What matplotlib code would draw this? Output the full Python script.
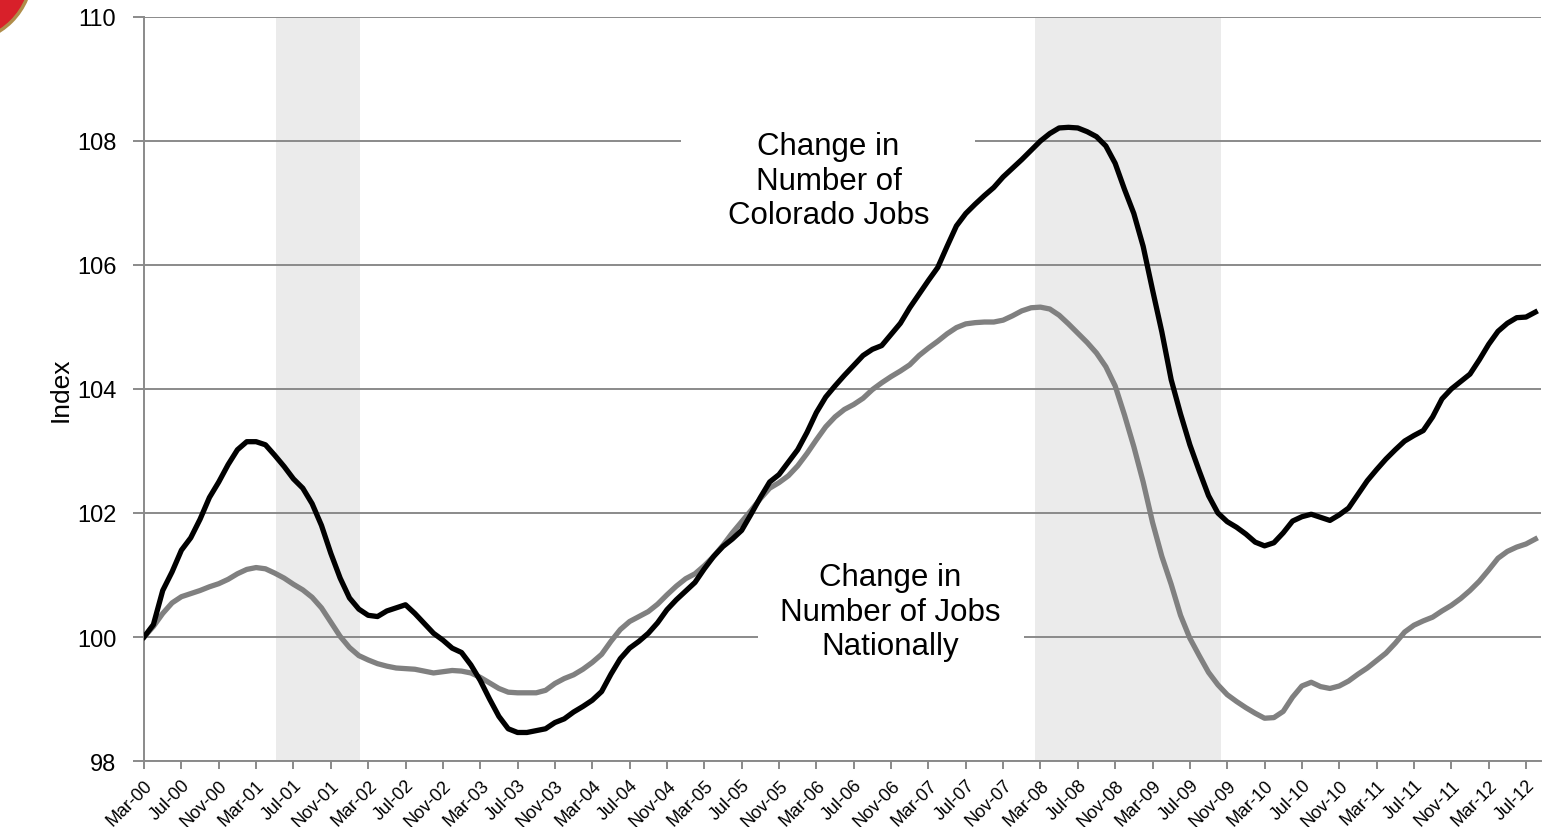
import numpy as np
import pandas as pd
import matplotlib
matplotlib.use('Agg')
from matplotlib import pyplot as plt
from matplotlib.patches import Rectangle, Circle

plt.rcParams['font.family'] = ['Liberation Sans', 'DejaVu Sans']

# monthly index, Mar-2000 = 100, through Aug-2012
months = pd.date_range('2000-03-01', periods=150, freq='MS')

colorado = [
    100.00, 100.20, 100.75, 101.05, 101.40, 101.60, 101.90, 102.25, 102.50, 102.78,
    103.02, 103.15, 103.15, 103.10, 102.93, 102.75, 102.55, 102.40, 102.15, 101.80,
    101.35, 100.95, 100.63, 100.45, 100.35, 100.33, 100.42, 100.47, 100.52, 100.38,
    100.22, 100.06, 99.95, 99.82, 99.75, 99.55, 99.30, 99.00, 98.72, 98.52,
    98.46, 98.46, 98.49, 98.52, 98.62, 98.68, 98.79, 98.88, 98.98, 99.12,
    99.40, 99.65, 99.82, 99.93, 100.06, 100.23, 100.44, 100.60, 100.74, 100.88,
    101.10, 101.30, 101.46, 101.58, 101.72, 101.98, 102.25, 102.50, 102.62, 102.82,
    103.02, 103.30, 103.62, 103.87, 104.05, 104.22, 104.38, 104.54, 104.64, 104.70,
    104.88, 105.06, 105.31, 105.53, 105.75, 105.96, 106.30, 106.63, 106.83, 106.98,
    107.12, 107.25, 107.42, 107.56, 107.70, 107.85, 108.00, 108.12, 108.21, 108.22,
    108.21, 108.15, 108.07, 107.92, 107.64, 107.22, 106.83, 106.30, 105.60, 104.92,
    104.15, 103.60, 103.10, 102.68, 102.28, 102.00, 101.86, 101.77, 101.66, 101.53,
    101.47, 101.52, 101.68, 101.87, 101.94, 101.98, 101.93, 101.88, 101.97, 102.08,
    102.30, 102.52, 102.70, 102.87, 103.02, 103.16, 103.25, 103.33, 103.55, 103.84,
    104.00, 104.12, 104.24, 104.47, 104.72, 104.93, 105.06, 105.15, 105.16, 105.24,
]

national = [
    100.00, 100.17, 100.38, 100.55, 100.65, 100.70, 100.75, 100.81, 100.86, 100.93,
    101.02, 101.09, 101.12, 101.10, 101.03, 100.95, 100.85, 100.76, 100.64, 100.47,
    100.24, 100.01, 99.83, 99.70, 99.63, 99.57, 99.53, 99.50, 99.49, 99.48,
    99.45, 99.42, 99.44, 99.46, 99.45, 99.42, 99.35, 99.26, 99.17, 99.11,
    99.10, 99.10, 99.10, 99.14, 99.25, 99.33, 99.39, 99.48, 99.59, 99.72,
    99.93, 100.12, 100.25, 100.33, 100.41, 100.53, 100.68, 100.82, 100.94, 101.02,
    101.15, 101.30, 101.48, 101.68, 101.86, 102.04, 102.23, 102.40, 102.49, 102.60,
    102.76, 102.96, 103.18, 103.39, 103.55, 103.67, 103.75, 103.85, 103.99, 104.10,
    104.20, 104.29, 104.39, 104.54, 104.66, 104.77, 104.89, 104.99, 105.05, 105.07,
    105.08, 105.08, 105.11, 105.18, 105.26, 105.31, 105.32, 105.29, 105.19, 105.05,
    104.90, 104.75, 104.58, 104.36, 104.05, 103.58, 103.07, 102.50, 101.85, 101.30,
    100.85, 100.35, 99.98, 99.70, 99.43, 99.23, 99.07, 98.96, 98.86, 98.77,
    98.69, 98.70, 98.80, 99.03, 99.21, 99.27, 99.20, 99.17, 99.21, 99.29,
    99.40, 99.50, 99.62, 99.74, 99.90, 100.08, 100.19, 100.26, 100.32, 100.42,
    100.51, 100.62, 100.75, 100.90, 101.08, 101.27, 101.38, 101.45, 101.50, 101.58,
]

# shaded recession bands, in months since Mar-00
recessions = [(14.1, 23.1), (95.4, 115.3)]

labels = [d.strftime('%b-%y') for d in months]
x = np.arange(len(months))

grid_c = '#8a8a8a'

fig = plt.figure(figsize=(15.49, 8.28), dpi=100)
ax = fig.add_axes([0.0930, 0.0797, 0.9018, 0.8986])

for a, b in recessions:
    ax.axvspan(a, b, color='#ebebeb', lw=0, zorder=0)

ax.set_yticks(np.arange(98, 111, 2))
ax.yaxis.grid(True, color=grid_c, lw=1.4, zorder=1)
ax.set_axisbelow(True)

# white boxes behind the labels hide the gridlines
ax.add_patch(Rectangle((57.5, 106.3), 31.5, 2.4, facecolor='white', lw=0, zorder=1.5))
ax.add_patch(Rectangle((65.7, 99.25), 28.5, 1.7, facecolor='white', lw=0, zorder=1.5))

ax.plot(x, national, color='#808080', lw=3.8, zorder=3, solid_joinstyle='round')
ax.plot(x, colorado, color='black', lw=3.8, zorder=4, solid_joinstyle='round')

ax.text(73.3, 107.36, 'Change in\nNumber of\nColorado Jobs', ha='center', va='center',
        fontsize=22.5, linespacing=1.2, zorder=5)
ax.text(79.9, 100.41, 'Change in\nNumber of Jobs\nNationally', ha='center', va='center',
        fontsize=22.5, linespacing=1.2, zorder=5)

ax.set_xlim(0, 149.6)
ax.set_ylim(98, 110)
ax.set_xticks(x[::4])
ax.set_xticklabels(labels[::4], rotation=45, ha='right', va='top',
                   rotation_mode='anchor', fontsize=13)
ax.tick_params(axis='y', labelsize=17, length=8, width=1.4, color=grid_c, pad=12)
ax.tick_params(axis='x', length=6, width=1.4, color=grid_c, pad=5)

for s in ['top', 'right']:
    ax.spines[s].set_visible(False)
for s in ['left', 'bottom']:
    ax.spines[s].set_color(grid_c)
    ax.spines[s].set_linewidth(1.4)

ax.set_ylabel('Index', fontsize=19)
ax.yaxis.set_label_coords(-0.051, 0.5)

# corner of the logo seal
fig.patches.append(Circle((-0.38, 8.55), 0.70, transform=fig.dpi_scale_trans,
                          facecolor='#d8202a', edgecolor='#b08d4a', lw=2.5))

fig.savefig('out.png', dpi=100)
